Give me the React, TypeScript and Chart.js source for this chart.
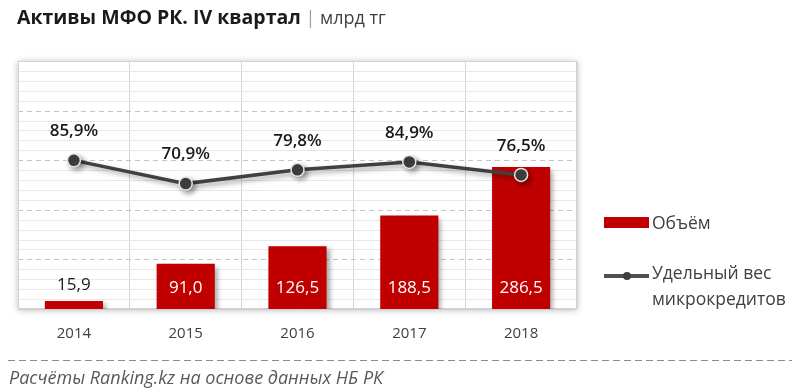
import React, { useEffect, useRef } from "react";
import { Chart, registerables } from "chart.js";

Chart.register(...registerables);

const categories = ["2014", "2015", "2016", "2017", "2018"];
const volumes = [15.9, 91.0, 126.5, 188.5, 286.5];
const shares = [85.9, 70.9, 79.8, 84.9, 76.5];
const volumeLabel = "Объём";
const shareLabel = ["Удельный вес", "микрокредитов"];

const FONT = "'Open Sans', 'Noto Sans', sans-serif";
const fmt = (v: number) => v.toFixed(1).replace(".", ",");

const plotBg = {
  id: "plotBg",
  beforeDraw(chart: any) {
    const { ctx, chartArea: a } = chart;
    ctx.save();
    ctx.shadowColor = "rgba(0,0,0,0.28)";
    ctx.shadowBlur = 7;
    ctx.shadowOffsetX = 0;
    ctx.shadowOffsetY = 1;
    ctx.fillStyle = "#ffffff";
    ctx.fillRect(a.left, a.top, a.right - a.left, a.bottom - a.top);
    ctx.restore();
  },
};

const hGrid = {
  id: "hGrid",
  beforeDatasetsDraw(chart: any) {
    const { ctx, chartArea: a } = chart;
    const y = chart.scales.y;
    ctx.save();
    for (let v = 0; v <= 500; v += 20) {
      const py = Math.round(y.getPixelForValue(v)) + 0.5;
      ctx.beginPath();
      if (v === 0 || v === 500) {
        ctx.setLineDash([]);
        ctx.strokeStyle = "#cfcfcf";
      } else if (v % 100 === 0) {
        ctx.setLineDash([5, 4]);
        ctx.strokeStyle = "#c4c4c4";
      } else {
        ctx.setLineDash([]);
        ctx.strokeStyle = "#e8e8e8";
      }
      ctx.lineWidth = 1;
      ctx.moveTo(a.left, py);
      ctx.lineTo(a.right, py);
      ctx.stroke();
    }
    ctx.setLineDash([]);
    ctx.strokeStyle = "#d4d4d4";
    ctx.strokeRect(a.left + 0.5, a.top + 0.5, a.right - a.left - 1, a.bottom - a.top - 1);
    ctx.restore();
  },
};

const shadows = {
  id: "shadows",
  beforeDatasetDraw(chart: any) {
    const ctx = chart.ctx;
    ctx.save();
    ctx.shadowColor = "rgba(0,0,0,0.35)";
    ctx.shadowBlur = 5;
    ctx.shadowOffsetX = 3;
    ctx.shadowOffsetY = 3;
  },
  afterDatasetDraw(chart: any) {
    chart.ctx.restore();
  },
};

const labels = {
  id: "labels",
  afterDatasetsDraw(chart: any) {
    const { ctx } = chart;
    ctx.save();
    ctx.textAlign = "center";
    ctx.textBaseline = "middle";
    const barMeta = chart.getDatasetMeta(1);
    barMeta.data.forEach((el: any, i: number) => {
      const h = el.base - el.y;
      ctx.font = `17px ${FONT}`;
      if (h < 30) {
        ctx.fillStyle = "#1a1a1a";
        ctx.fillText(fmt(volumes[i]), el.x, el.y - 16);
      } else {
        ctx.fillStyle = "#ffffff";
        ctx.fillText(fmt(volumes[i]), el.x, el.base - 21);
      }
    });
    const lineMeta = chart.getDatasetMeta(0);
    lineMeta.data.forEach((el: any, i: number) => {
      ctx.font = `600 17px ${FONT}`;
      ctx.fillStyle = "#1a1a1a";
      ctx.fillText(fmt(shares[i]) + "%", el.x, el.y - 29);
    });
    ctx.restore();
  },
};

export default function App() {
  const ref = useRef<HTMLCanvasElement>(null);
  useEffect(() => {
    if (!ref.current) return;
    const chart = new Chart(ref.current, {
      type: "bar",
      data: {
        labels: categories,
        datasets: [
          {
            type: "line",
            label: shareLabel.join(" "),
            data: shares,
            yAxisID: "y2",
            borderColor: "#404040",
            borderWidth: 3.5,
            pointRadius: 6.5,
            pointBackgroundColor: "#404040",
            pointBorderColor: "#e6e6e6",
            pointBorderWidth: 1.5,
            order: 1,
          } as any,
          {
            type: "bar",
            label: volumeLabel,
            data: volumes,
            yAxisID: "y",
            backgroundColor: "#c00000",
            barPercentage: 0.52,
            categoryPercentage: 1,
            order: 2,
          },
        ],
      },
      options: {
        responsive: false,
        animation: false,
        devicePixelRatio: 1,
        layout: { padding: { left: 18, right: 223, top: 61, bottom: 0 } },
        plugins: { legend: { display: false }, tooltip: { enabled: false }, title: { display: false } },
        scales: {
          x: {
            grid: { offset: true, color: "#d4d4d4", drawTicks: false },
            border: { display: false },
            ticks: { font: { family: FONT, size: 15 }, color: "#404040", padding: 16 },
            afterFit: (s: any) => {
              s.height = 82;
            },
          },
          y: { display: false, min: 0, max: 500 },
          y2: { display: false, min: -10, max: 150, position: "right" },
        },
      },
      plugins: [plotBg, hGrid, shadows, labels],
    });
    return () => chart.destroy();
  }, []);

  return (
    <div style={{ position: "fixed", left: 0, top: 0, width: 800, height: 391, background: "#fff", fontFamily: FONT }}>
      <canvas ref={ref} width={800} height={391} style={{ position: "absolute", left: 0, top: 0, width: 800, height: 391 }} />
      <div style={{ position: "absolute", left: 17, top: 2, whiteSpace: "nowrap", lineHeight: "30px" }}>
        <span style={{ fontWeight: 700, fontSize: 19.5, color: "#1a1a1a" }}>Активы МФО РК. IV квартал</span>
        <span style={{ fontSize: 18, color: "#a0a0a0" }}> | </span>
        <span style={{ fontSize: 18, color: "#404040" }}>млрд тг</span>
      </div>
      <div style={{ position: "absolute", left: 604, top: 217, width: 45, height: 11, background: "#c00000" }} />
      <div style={{ position: "absolute", left: 652, top: 210, fontSize: 17.5, lineHeight: "24px", color: "#404040" }}>{volumeLabel}</div>
      <div style={{ position: "absolute", left: 604, top: 274, width: 45, height: 4, background: "#505050" }} />
      <div style={{ position: "absolute", left: 623, top: 272, width: 8, height: 8, borderRadius: 4, background: "#404040" }} />
      <div style={{ position: "absolute", left: 652, top: 259, fontSize: 17.5, lineHeight: "26px", color: "#404040", whiteSpace: "nowrap" }}>
        {shareLabel[0]}
        <br />
        {shareLabel[1]}
      </div>
      <div
        style={{
          position: "absolute",
          left: 8,
          top: 360,
          width: 784,
          height: 1,
          background: "repeating-linear-gradient(to right, #8c8c8c 0 7px, transparent 7px 11px)",
        }}
      />
      <div style={{ position: "absolute", left: 9, top: 364, fontSize: 18, fontStyle: "italic", color: "#595959", lineHeight: "26px", whiteSpace: "nowrap" }}>
        Расчёты Ranking.kz на основе данных НБ РК
      </div>
    </div>
  );
}
